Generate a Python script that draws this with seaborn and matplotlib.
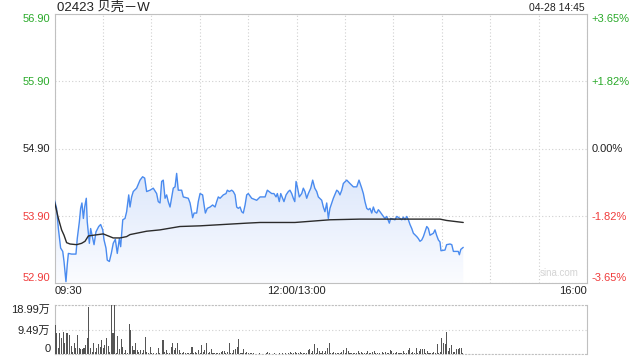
import numpy as np
import matplotlib
matplotlib.use("Agg")
import matplotlib.pyplot as plt
from matplotlib.colors import LinearSegmentedColormap
import seaborn as sns
import pandas as pd

# ---------------- data ----------------
title = "02423 贝壳－W"
stamp = "04-28 14:45"
prev_close = 54.90
price_ticks = [52.90, 53.90, 54.90, 55.90, 56.90]
price_labels = ["52.90", "53.90", "54.90", "55.90", "56.90"]
pct_labels = ["-3.65%", "-1.82%", "0.00%", "+1.82%", "+3.65%"]
grid_minutes = list(range(0, 331, 30))
time_labels = {0: "09:30", 150: "12:00/13:00", 330: "16:00"}
vol_ticks = [0, 9.49, 18.99]
vol_labels = ["0", "9.49万", "18.99万"]

# trading minutes since 09:30 (lunch break removed)
minutes = [0, 1.3, 2.4, 3.8, 5.1, 5.9, 7.1, 7.9, 8.6, 10.6,
           13.3, 14.1, 15.4, 16.2, 17.0, 17.9, 18.7, 19.7, 20.3, 21.6,
           22.4, 23.7, 24.5, 25.7, 27.4, 28.6, 29.9, 30.7, 31.9, 32.7,
           34.0, 35.2, 36.4, 37.7, 38.9, 40.2, 41.0, 42.3, 43.7, 44.7,
           46.0, 46.8, 47.8, 48.8, 50.9, 53.0, 54.6, 55.9, 57.1, 59.2,
           61.2, 63.3, 64.3, 65.4, 66.4, 67.4, 68.5, 69.5, 70.5, 71.6,
           73.6, 74.7, 75.7, 76.7, 78.8, 79.8, 82.9, 84.0, 85.0, 85.6,
           86.5, 88.1, 89.1, 90.2, 91.8, 92.7, 93.5, 94.7, 96.4, 98.0,
           99.5, 100.5, 101.5, 102.6, 104.6, 106.3, 107.1, 108.3, 109.8, 110.8,
           111.9, 112.9, 113.9, 115.0, 116.0, 117.0, 118.1, 119.1, 120.1, 122.2,
           125.3,
           127.4, 130.5, 131.9, 134.6, 136.0, 137.3, 138.1, 139.3, 140.2, 141.4,
           142.2, 143.5, 144.9, 145.9, 147.0, 148.0, 148.9, 149.7, 150.5, 151.7,
           153.2, 154.2, 155.2, 156.3, 157.3, 158.8, 160.0, 161.3, 162.5, 163.5,
           165.6, 166.6, 167.6, 168.7, 169.7, 170.7, 171.8, 172.8, 174.9, 175.9,
           176.9, 178.0, 179.0, 181.1, 183.1, 185.2,
           187.3, 188.7, 190.4, 191.4, 192.4, 193.5, 194.5, 195.5, 196.6, 197.6,
           198.6, 199.7, 200.7, 201.7, 203.8, 204.8, 205.9, 207.5, 208.3, 211.0,
           212.1, 214.1, 215.2, 216.2, 217.2, 218.3, 219.3, 220.3, 221.4, 222.4,
           224.5, 225.5, 226.5, 227.6, 228.6, 229.6, 230.7, 231.7, 232.7, 234.8,
           235.8, 236.8, 237.9, 238.9, 239.5, 242.0, 243.0, 245.1, 246.2, 247.2,
           250.2, 250.9, 251.8, 253.3]
price = [54.13, 54.01, 53.71, 53.42, 53.37, 53.22, 52.92, 53.17, 53.34, 53.33,
         53.33, 53.56, 53.81, 54.01, 54.09, 53.86, 54.03, 54.16, 53.81, 53.49,
         53.71, 53.56, 53.47, 53.66, 53.74, 53.77, 53.69, 53.54, 53.42, 53.24,
         53.22, 53.34, 53.49, 53.55, 53.34, 53.56, 53.44, 53.84, 53.86, 53.96,
         54.21, 54.03, 54.18, 54.26, 54.31, 54.43, 54.48, 54.46, 54.26, 54.28,
         54.31, 54.23, 54.11, 54.09, 54.41, 54.43, 54.16, 54.21, 54.11, 54.03,
         54.31, 54.33, 54.53, 54.28, 54.28, 54.18, 54.16, 54.09, 53.96, 53.87,
         53.94, 53.94, 54.11, 54.23, 54.21, 54.06, 53.94, 54.01, 54.03, 54.06,
         54.03, 54.11, 54.18, 54.16, 54.21, 54.23, 54.28, 54.26, 54.28, 54.26,
         54.21, 54.03, 54.01, 54.03, 53.96, 53.94, 54.06, 54.21, 54.23, 54.16,
         54.13,
         54.18, 54.18, 54.28, 54.23, 54.23, 54.18, 54.23, 54.11, 54.23, 54.16,
         54.11, 54.21, 54.26, 54.28, 54.23, 54.16, 54.11, 54.41, 54.33, 54.18,
         54.23, 54.31, 54.26, 54.16, 54.23, 54.31, 54.43, 54.31, 54.26, 54.18,
         54.13, 54.03, 53.96, 54.09, 53.86, 54.01, 54.09, 54.16, 54.28, 54.26,
         54.21, 54.28, 54.38, 54.43, 54.38, 54.33,
         54.33, 54.43, 54.31, 54.23, 54.11, 54.01, 53.99, 54.01, 53.94, 54.03,
         53.96, 53.94, 53.99, 53.96, 53.89, 53.86, 53.89, 53.79, 53.86, 53.84,
         53.89, 53.86, 53.84, 53.88, 53.84, 53.89, 53.84, 53.77, 53.71, 53.64,
         53.59, 53.56, 53.52, 53.54, 53.59, 53.66, 53.74, 53.71, 53.61, 53.64,
         53.69, 53.61, 53.54, 53.51, 53.38, 53.39, 53.47, 53.48, 53.47, 53.37,
         53.37, 53.32, 53.40, 53.43]

avg_minutes = [0, 2.4, 4.4, 5.9, 7.5, 9.6, 13.7, 16.8, 18.9, 21.0, 24.0,
               30.2, 33.3, 36.4, 40.6, 44.7, 46.8, 50.9, 57.1, 65.4, 77.7,
               90.2, 119.1, 127.4, 149.0, 170.7, 189.3, 214.0, 238.9, 243.0, 253.3]
avg_price = [54.11, 53.86, 53.69, 53.61, 53.50, 53.48, 53.47, 53.49, 53.52, 53.60, 53.61,
             53.63, 53.60, 53.57, 53.57, 53.59, 53.62, 53.64, 53.67, 53.69, 53.74,
             53.75, 53.79, 53.80, 53.80, 53.84, 53.85, 53.85, 53.85, 53.83, 53.80]

# volume per minute, in 万 shares
volume = [11.2, 8.0, 2.3, 8.0, 6.1, 8.7, 4.2, 8.0, 8.0, 7.4,
          3.2, 1.0, 4.5, 2.3, 7.4, 2.3, 1.9, 1.9, 2.3, 3.6,
          6.1, 18.2, 2.3, 1.0, 4.5, 1.0, 2.3, 3.8, 2.9, 5.5,
          2.3, 3.6, 6.1, 3.2, 1.0, 18.99, 8.0, 18.99, 0.4, 7.0,
          1.9, 5.7, 2.9, 0.6, 1.7, 0.5, 11.6, 9.3, 3.2, 1.7,
          4.5, 1.7, 1.0, 1.7, 0.6, 1.7, 6.8, 1.0, 0.4, 2.9,
          0.4, 0.6, 0.3, 0.6, 2.3, 0.6, 0.3, 5.5, 1.0, 1.7,
          0.6, 0.4, 2.9, 4.5, 1.7, 2.3, 4.5, 1.7, 0.6, 0.4,
          1.0, 0.4, 0.6, 0.4, 0.6, 2.9, 0.6, 1.0, 0.4, 1.7,
          0.4, 3.6, 1.0, 1.7, 4.5, 0.6, 1.0, 1.9, 0.4, 0.4,
          0.6, 0.6, 0.6, 1.0, 1.3, 1.3, 0.4, 1.0, 4.5, 0.4,
          0.6, 1.7, 1.9, 2.7, 5.7, 0.4, 0.6, 1.9, 0.6, 1.0,
          0.4, 0.6, 0.6, 0.4, 0.2, 0.3, 0.2, 0.4, 0.3, 0.2,
          0.3, 0.4, 1.0, 0.4, 0.3, 0.2, 0.4, 0.3, 0.3, 0.6,
          0.3, 0.4, 0.3, 0.6, 0.3, 0.4, 1.0, 0.4, 0.6, 1.0,
          0.4, 0.6, 1.0, 0.4, 0.6, 0.6, 0.6, 1.7, 1.9, 0.6,
          1.4, 3.9, 0.4, 2.3, 1.4, 0.4, 1.4, 0.6, 1.4, 2.3,
          4.5, 0.6, 0.6, 1.0, 0.6, 0.4, 0.4, 0.6, 1.0, 1.7,
          0.6, 2.3, 1.4, 0.6, 0.4, 0.6, 0.4, 0.6, 1.4, 0.6,
          1.0, 0.6, 0.4, 0.6, 1.4, 0.4, 0.6, 1.0, 1.4, 0.4,
          0.6, 0.6, 0.3, 1.0, 0.6, 1.0, 0.4, 0.6, 1.7, 1.4,
          0.4, 0.6, 1.0, 0.4, 0.6, 0.4, 1.4, 0.6, 0.6, 1.7,
          2.3, 0.6, 1.0, 0.6, 2.3, 0.6, 1.4, 1.9, 1.9, 1.9,
          0.6, 1.4, 0.6, 0.6, 0.4, 1.0, 0.6, 3.9, 0.6, 1.0,
          6.1, 4.2, 3.9, 8.7, 1.4, 2.3, 3.6, 1.0, 1.0, 1.9,
          1.9, 2.3, 2.3, 0.6]

# ---------------- style ----------------
sns.set_theme(style="white")
plt.rcParams["font.family"] = ["Liberation Sans", "Noto Sans CJK SC", "DejaVu Sans"]

UP = "#2aaa2a"
DOWN = "#f03c3c"
FLAT = "#222222"
GRID = "#d0d0d0"
SPINE = "#c0c0c0"


def tick_color(v, ref):
    if abs(v - ref) < 1e-9:
        return FLAT
    return UP if v > ref else DOWN


fig = plt.figure(figsize=(6.4, 3.6), dpi=100)
L, R = 54.5 / 640, 587 / 640
ax = fig.add_axes([L, 1 - 283 / 360, R - L, (283 - 14) / 360])
axv = fig.add_axes([L, 1 - 354.3 / 360, R - L, (354.3 - 304.7) / 360])

ymin, ymax = price_ticks[0], price_ticks[-1]

# price line and average line
df = pd.DataFrame({"t": minutes, "p": price})
sns.lineplot(data=df, x="t", y="p", ax=ax, color="#4a8bef", lw=1.0, zorder=4)
dfa = pd.DataFrame({"t": avg_minutes, "p": avg_price})
sns.lineplot(data=dfa, x="t", y="p", ax=ax, color="#2b2b2b", lw=1.0, zorder=5)

# gradient fill under the price line
poly = ax.fill_between(minutes, price, ymin, color="none", lw=0)
clip_path = poly.get_paths()[0]
cmap = LinearSegmentedColormap.from_list("g", ["#fbfcff", "#dce7fb"])
grad = np.linspace(1, 0, 256).reshape(-1, 1)
im = ax.imshow(grad, extent=[0, max(minutes), ymin, max(price)], aspect="auto",
               cmap=cmap, origin="upper", zorder=2)
im.set_clip_path(clip_path, transform=ax.transData)

ax.set_xlim(0, 330)
ax.set_ylim(ymin, ymax)
ax.set_xlabel("")
ax.set_ylabel("")
ax.set_xticks(grid_minutes)
ax.set_xticklabels([time_labels.get(m, "") for m in grid_minutes])
ax.set_yticks(price_ticks)
ax.set_yticklabels(price_labels)
ax.grid(True, ls=(0, (1, 2)), color=GRID, lw=0.8)
ax.tick_params(axis="both", length=0, labelsize=8, pad=3)
ax.tick_params(axis="x", pad=2, labelcolor="#222222")
xl = ax.get_xticklabels()
xl[0].set_ha("left")
xl[-1].set_ha("right")
for i, lab in enumerate(ax.get_yticklabels()):
    lab.set_color(tick_color(price_ticks[i], prev_close))
    if i == 0:
        lab.set_va("bottom")
    elif i == len(price_ticks) - 1:
        lab.set_va("top")
for s in ax.spines.values():
    s.set_color(SPINE)
    s.set_linewidth(0.8)

# right percent axis
ax2 = ax.twinx()
ax2.set_ylim(ymin, ymax)
ax2.set_yticks(price_ticks)
ax2.set_yticklabels(pct_labels)
ax2.tick_params(axis="y", length=0, labelsize=8, pad=3)
for i, lab in enumerate(ax2.get_yticklabels()):
    lab.set_color(tick_color(price_ticks[i], prev_close))
    if i == 0:
        lab.set_va("bottom")
    elif i == len(price_ticks) - 1:
        lab.set_va("top")
for s in ax2.spines.values():
    s.set_visible(False)
ax2.grid(False)

ax.text(0.985, 0.02, "sina.com", transform=ax.transAxes, ha="right", va="bottom",
        fontsize=7, color="#d4d4d4")

# volume bars
dfv = pd.DataFrame({"i": np.arange(len(volume)), "v": volume})
sns.barplot(data=dfv, x="i", y="v", ax=axv, native_scale=True, color="#555555",
            saturation=1, width=0.65, errorbar=None, zorder=3,
            edgecolor="none", linewidth=0)
axv.set_xlim(-0.3, 330)
axv.set_ylim(0, vol_ticks[-1])
axv.set_xlabel("")
axv.set_ylabel("")
axv.set_xticks([])
axv.set_yticks(vol_ticks)
axv.set_yticklabels(vol_labels)
axv.tick_params(axis="y", length=0, labelsize=8, pad=3, labelcolor="#222222")
axv.yaxis.grid(True, ls=(0, (1, 2)), color=GRID, lw=0.8)
axv.xaxis.grid(False)
vl = axv.get_yticklabels()
vl[0].set_va("bottom")
vl[-1].set_va("top")
for k, s in axv.spines.items():
    s.set_color(SPINE)
    s.set_linewidth(0.8)
    if k in ("top", "bottom"):
        s.set_linestyle((0, (1, 2)))

fig.text(57 / 640, 1 - 8 / 360, title, ha="left", va="center", fontsize=9.5, color="#222222")
fig.text(585 / 640, 1 - 8 / 360, stamp, ha="right", va="center", fontsize=7.5, color="#222222")

fig.savefig("out.png", dpi=100)
